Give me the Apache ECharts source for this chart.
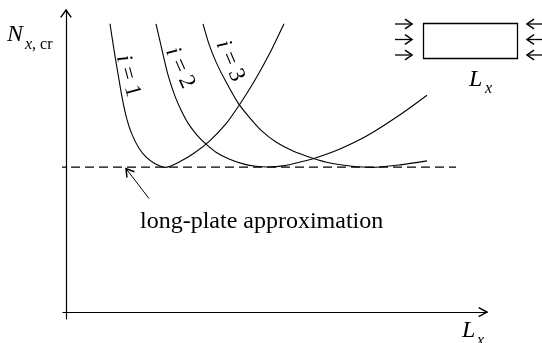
<!DOCTYPE html>
<html>
<head>
<meta charset="utf-8">
<script src="https://cdn.jsdelivr.net/npm/echarts@6/dist/echarts.min.js"></script>
<style>
  html, body { margin: 0; padding: 0; background: #fff; }
  #c { width: 542px; height: 343px; }
</style>
</head>
<body>
<div id="c"></div>
<script>
// Critical buckling load N_x,cr of a plate versus its length L_x,
// one curve per number of half-waves i, with the long-plate limit dashed.
const modeLabels = ['1', '2', '3'];

const modeOne = [
  [0.44, 7.95], [0.48, 7.23], [0.525, 6.49], [0.565, 5.86], [0.61, 5.31],
  [0.66, 4.90], [0.73, 4.52], [0.81, 4.25], [0.89, 4.09], [0.97, 4.00],
  [0.99, 3.99], [1.14, 4.15], [1.29, 4.40], [1.44, 4.73], [1.59, 5.16],
  [1.74, 5.74], [1.89, 6.40], [2.04, 7.15], [2.18, 7.95]
];
const modeTwo = [
  [0.90, 7.95], [0.96, 7.23], [1.02, 6.54], [1.085, 5.99], [1.15, 5.57],
  [1.22, 5.21], [1.31, 4.88], [1.40, 4.63], [1.50, 4.41], [1.63, 4.22],
  [1.78, 4.08], [1.90, 4.02], [2.02, 4.00], [2.19, 4.04], [2.34, 4.14],
  [2.47, 4.23], [2.74, 4.50], [3.01, 4.86], [3.34, 5.44], [3.61, 5.98]
];
const modeThree = [
  [1.37, 7.95], [1.43, 7.39], [1.50, 6.90], [1.60, 6.35], [1.72, 5.77],
  [1.84, 5.35], [1.96, 4.99], [2.10, 4.69], [2.27, 4.44], [2.46, 4.25],
  [2.64, 4.11], [2.84, 4.03], [3.06, 3.99], [3.34, 4.06], [3.61, 4.17]
];

const longPlateLevel = 4.0;
const longPlateSpan = [-0.09, 3.90];
const xLimits = [-0.03, 4.21];
const yLimits = [-0.19, 8.33];

const serif = '"Liberation Serif", "Times New Roman", serif';
const ink = '#000';

const chart = echarts.init(document.getElementById('c'), null, { renderer: 'canvas' });

function modeCurve(name, data) {
  return {
    type: 'line', name, data,
    smooth: 0.25, symbol: 'none', clip: false,
    lineStyle: { color: ink, width: 1.1 }
  };
}

const bareAxis = (lim) => ({
  type: 'value', min: lim[0], max: lim[1],
  axisLine: { onZero: true, lineStyle: { color: ink, width: 1.2 } },
  axisTick: { show: false }, axisLabel: { show: false }, splitLine: { show: false }
});

chart.setOption({
  animation: false,
  backgroundColor: '#fff',
  grid: { left: 63, right: 55, top: 10, bottom: 24 },
  xAxis: bareAxis(xLimits),
  yAxis: bareAxis(yLimits),
  series: [
    modeCurve('i = 1', modeOne),
    modeCurve('i = 2', modeTwo),
    modeCurve('i = 3', modeThree),
    {
      type: 'line', name: 'long-plate approximation',
      data: longPlateSpan.map(x => [x, longPlateLevel]),
      symbol: 'none', clip: false,
      lineStyle: { color: ink, width: 1.2, type: [9, 5] }
    }
  ]
});

const px = (x, y) => chart.convertToPixel({ gridIndex: 0 }, [x, y]);

// open arrow head: tip point, direction it points to, arm length, half angle
function chevron(tip, dir, len, half, w) {
  const a = Math.atan2(dir[1], dir[0]);
  const arm = (s) => [tip[0] - len * Math.cos(a + s * half), tip[1] - len * Math.sin(a + s * half)];
  return {
    type: 'polyline', silent: true,
    shape: { points: [arm(1), tip, arm(-1)] },
    style: { stroke: ink, lineWidth: w || 1.5, fill: null }
  };
}
function segment(p, q, w) {
  return { type: 'line', silent: true, shape: { x1: p[0], y1: p[1], x2: q[0], y2: q[1] }, style: { stroke: ink, lineWidth: w || 1.2 } };
}
function label(x, y, parts, opts) {
  const rich = {
    it: { fontFamily: serif, fontStyle: 'italic', fontSize: opts.size, fill: ink },
    up: { fontFamily: serif, fontSize: opts.size, fill: ink }
  };
  return {
    type: 'text', silent: true, x, y, rotation: opts.rotation || 0,
    style: {
      text: parts.map(([k, t]) => '{' + k + '|' + t + '}').join(''),
      rich, align: opts.align || 'left', verticalAlign: 'middle'
    }
  };
}

const yTop = px(0, yLimits[1]);
const xEnd = px(xLimits[1], 0);
const dashRef = px(0.60, longPlateLevel);
const noteTip = [dashRef[0], dashRef[1] + 1.5];
const noteTail = [noteTip[0] + 23, noteTip[1] + 30];

const graphics = [
  chevron(yTop, [0, -1], 9, 0.62),
  chevron(xEnd, [1, 0], 9.5, 0.5),
  segment(noteTail, noteTip, 1),
  chevron(noteTip, [noteTip[0] - noteTail[0], noteTip[1] - noteTail[1]], 9, 0.55),

  // axis titles
  label(7, 35, [['it', 'N']], { size: 24 }),
  label(25, 45, [['it', 'x'], ['up', ', cr']], { size: 16 }),
  label(462, 331, [['it', 'L']], { size: 24 }),
  label(477, 341, [['it', 'x']], { size: 16 }),

  label(140, 222, [['up', 'long-plate approximation']], { size: 24 }),

  // plate sketch with compressive edge loads
  { type: 'rect', silent: true, shape: { x: 423.5, y: 23.5, width: 94, height: 35 }, style: { stroke: ink, lineWidth: 1.3, fill: null } },
  label(469, 80, [['it', 'L']], { size: 24 }),
  label(485, 89, [['it', 'x']], { size: 16 })
];

[24, 39.5, 55].forEach(y => {
  graphics.push(segment([395, y], [411, y], 1.3));
  graphics.push(chevron([412, y], [1, 0], 8.5, 0.6));
  graphics.push(segment([528, y], [544, y], 1.3));
  graphics.push(chevron([527, y], [-1, 0], 8.5, 0.6));
});

// rotated mode labels beside each curve
const modeLabelPlaces = [
  { c: [128, 76], deg: -75 },
  { c: [180, 68], deg: -66 },
  { c: [230, 61], deg: -67 }
];
modeLabels.forEach((n, k) => {
  const p = modeLabelPlaces[k];
  graphics.push(label(p.c[0], p.c[1], [['it', 'i'], ['up', ' = ' + n]],
    { size: 23, align: 'center', rotation: p.deg * Math.PI / 180 }));
});

chart.setOption({ graphic: graphics });
</script>
</body>
</html>
